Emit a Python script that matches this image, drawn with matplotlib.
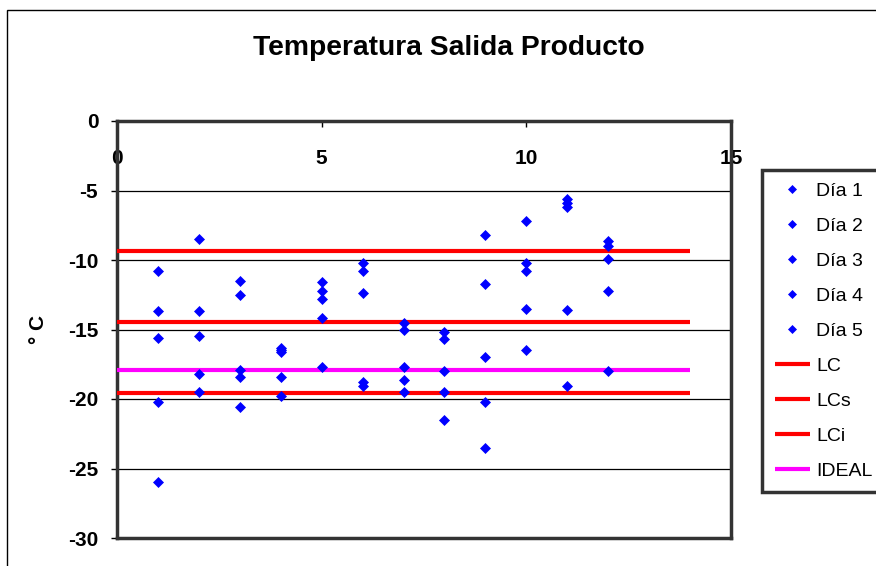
import numpy as np
import matplotlib
matplotlib.use('Agg')
import matplotlib.pyplot as plt
from matplotlib.patches import Rectangle

plt.rcParams['font.family'] = ['Liberation Sans', 'DejaVu Sans']
plt.rcParams['axes.unicode_minus'] = False

# datos
muestra = [1, 2, 3, 4, 5, 6, 7, 8, 9, 10, 11, 12]
dia1 = [-10.8, -8.5, -11.5, -16.3, -11.6, -10.2, -14.5, -15.2, -8.2, -7.2, -5.6, -8.6]
dia2 = [-13.7, -13.7, -12.5, -16.5, -12.2, -10.8, -15.0, -15.7, -11.7, -10.2, -5.9, -9.0]
dia3 = [-15.6, -15.5, -17.9, -16.6, -12.8, -12.4, -17.7, -18.0, -17.0, -10.8, -6.2, -9.9]
dia4 = [-20.2, -18.2, -18.4, -18.4, -14.2, -18.8, -18.6, -19.5, -20.2, -13.5, -13.6, -12.2]
dia5 = [-26.0, -19.5, -20.6, -19.8, -17.7, -19.1, -19.5, -21.5, -23.5, -16.5, -19.1, -18.0]
dias = [dia1, dia2, dia3, dia4, dia5]
nombres = ['Día 1', 'Día 2', 'Día 3', 'Día 4', 'Día 5']

rango_x = [0, 14]
LC = -14.45
LCs = -9.38
LCi = -19.6
IDEAL = -17.92

fig = plt.figure(figsize=(8.76, 5.66), dpi=100)
ax = fig.add_axes([117/876, 28/566, 614/876, 417/566])

for d, nom in zip(dias, nombres):
    ax.plot(muestra, d, linestyle='none', marker='D', ms=5.5, color='#0000FF',
            mec='#0000FF', mew=0.5, label=nom, zorder=4)

ax.hlines(LC, rango_x[0], rango_x[1], color='#FF0000', lw=3, label='LC', zorder=3)
ax.hlines(LCs, rango_x[0], rango_x[1], color='#FF0000', lw=3, label='LCs', zorder=3)
ax.hlines(LCi, rango_x[0], rango_x[1], color='#FF0000', lw=3, label='LCi', zorder=3)
ax.hlines(IDEAL, rango_x[0], rango_x[1], color='#FF00FF', lw=3, label='IDEAL', zorder=3)

ax.set_xlim(0, 15)
ax.set_ylim(-30, 0)
ax.set_xticks([0, 5, 10, 15])
ax.set_yticks(np.arange(-30, 1, 5))
ax.yaxis.grid(True, color='black', lw=0.9)
ax.set_axisbelow(True)

ax.xaxis.tick_top()
ax.tick_params(axis='x', direction='in', length=4, width=1, labelsize=15, pad=-34)
ax.tick_params(axis='y', direction='out', length=4.5, width=1, labelsize=15, pad=9)
for lab in ax.get_xticklabels() + ax.get_yticklabels():
    lab.set_fontweight('bold')

for s in ax.spines.values():
    s.set_linewidth(2.5)
    s.set_color('#333333')

ax.set_ylabel('° C', fontsize=15, fontweight='bold')
ax.yaxis.set_label_coords(-0.112, 0.5)

fig.text(449/876, 1 - 48/566, 'Temperatura Salida Producto', fontsize=20.3,
         fontweight='bold', ha='center', va='center')

# marco del area del grafico
fig.patches.append(Rectangle((7/876, -0.1), 1.2, 1.1 - 10/566, transform=fig.transFigure,
                             fill=False, lw=1, ec='black', clip_on=False))

leg = fig.legend(loc='upper left', bbox_to_anchor=(762/876, 1 - 170/566), fontsize=14,
                 frameon=True, fancybox=False, edgecolor='black', borderpad=0.65,
                 labelspacing=0.89, handlelength=1.8, handletextpad=0.35,
                 markerscale=0.75, borderaxespad=0)
leg.get_frame().set_linewidth(2.5)

fig.savefig('out.png', dpi=100)
